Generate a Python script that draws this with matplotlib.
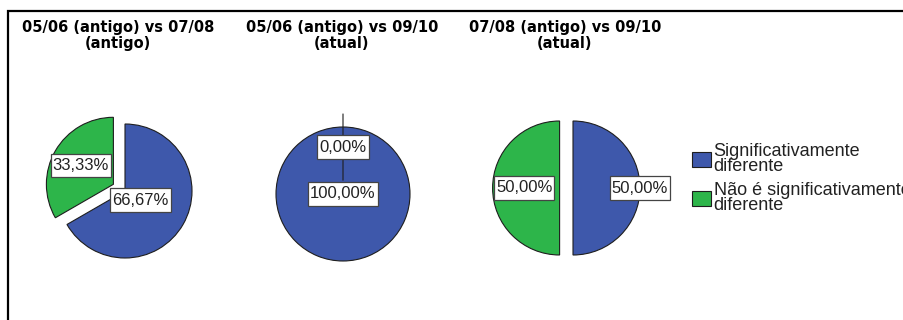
import numpy as np
import matplotlib.pyplot as plt
from matplotlib.patches import Rectangle

# percentages per comparison: [significativamente diferente, não é significativamente diferente]
titles = ["05/06 (antigo) vs 07/08\n(antigo)",
          "05/06 (antigo) vs 09/10\n(atual)",
          "07/08 (antigo) vs 09/10\n(atual)"]
sig_diff = [66.67, 100.00, 50.00]
not_sig_diff = [33.33, 0.00, 50.00]
legend_labels = ["Significativamente\ndiferente",
                 "Não é significativamente\ndiferente"]

BLUE = '#3e58ab'
GREEN = '#2db54a'
EDGE = '#1e1e1e'
W, H = 904, 320

# pie centres in pixels (from top-left), radius in pixels
centers = [(125, 191), (343, 194), (573, 188)]
title_x = [118, 342, 565]
R = 67
# how far from the (exploded) wedge centre each percentage box sits, in radii
label_dist = [(0.27, 0.56), (0.0, 0.5), (1.0, 0.53)]

plt.rcParams['font.family'] = ['Liberation Sans', 'DejaVu Sans']
fig = plt.figure(figsize=(W / 100, H / 100), dpi=100)

# outer frame, only top and left visible
fig.patches.append(Rectangle((8 / W, -0.1), 1.1, (H - 11) / H + 0.1,
                             transform=fig.transFigure, fill=False,
                             edgecolor='black', linewidth=1.6))

wedges = None
for i in range(3):
    cx, cy = centers[i]
    half = 100
    ax = fig.add_axes([(cx - half) / W, (H - cy - half) / H, 2 * half / W, 2 * half / H])
    lim = half / R
    vals = [sig_diff[i], not_sig_diff[i]]
    wedges, _ = ax.pie(vals, colors=[BLUE, GREEN], startangle=90, counterclock=False,
                       explode=[0, 0.2], radius=1,
                       wedgeprops=dict(edgecolor=EDGE, linewidth=0.8))
    for w, v, d in zip(wedges, vals, label_dist[i]):
        mid = np.deg2rad((w.theta1 + w.theta2) / 2)
        ox, oy = w.center
        t = ax.text(ox + d * np.cos(mid), oy + d * np.sin(mid),
                    f"{v:.2f}%".replace('.', ','), ha='center', va='center',
                    fontsize=12, color='#222222',
                    bbox=dict(boxstyle='square,pad=0.12', facecolor='white',
                              edgecolor='#444444', linewidth=0.9))
        # taller box than wide padding
        t.get_bbox_patch().set_mutation_aspect(2.2)
    ax.set_xlim(-lim, lim)
    ax.set_ylim(-lim, lim)
    ax.set_aspect('equal')
    ax.axis('off')

    fig.text(title_x[i] / W, 1 - 20 / H, titles[i], ha='center', va='top',
             fontsize=10.5, fontweight='bold', linespacing=1.12,
             family='DejaVu Sans')

fig.legend(wedges, legend_labels, loc='upper left',
           bbox_to_anchor=(692 / W, 1 - 143 / H), frameon=False,
           fontsize=13, handlelength=1.05, handleheight=0.95,
           handletextpad=0.15, labelspacing=0.4, borderpad=0,
           borderaxespad=0)
for t in fig.legends[0].get_texts():
    t.set_linespacing(0.85)
    t.set_color('#222222')

fig.savefig('out.png', dpi=100, facecolor='white')
